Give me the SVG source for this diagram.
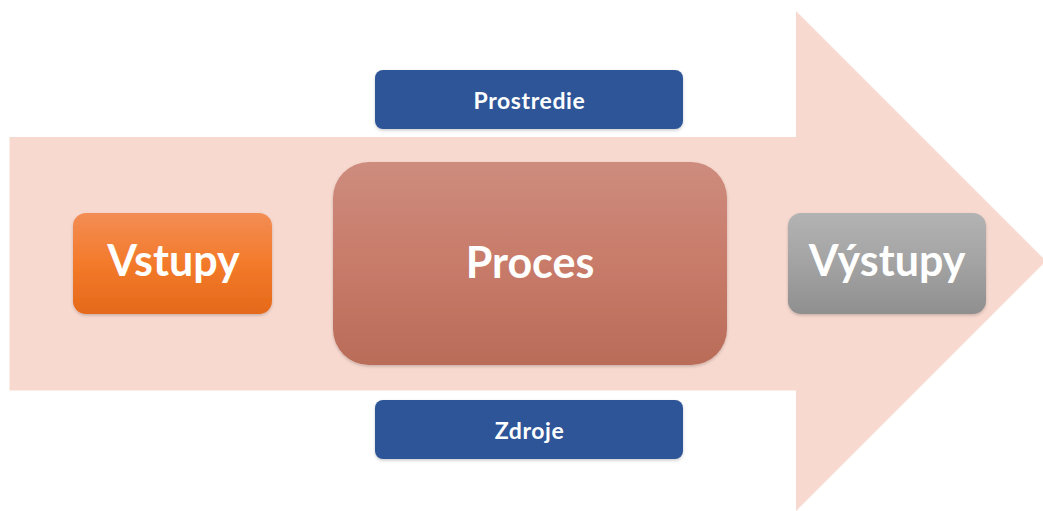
<svg xmlns="http://www.w3.org/2000/svg" width="1043" height="511" viewBox="0 0 1043 511">
<defs>
<linearGradient id="gOrange" x1="0" y1="0" x2="0" y2="1"><stop offset="0" stop-color="#F38D55"/><stop offset="0.5" stop-color="#F37A2A"/><stop offset="1" stop-color="#E5691A"/></linearGradient>
<linearGradient id="gProc" x1="0" y1="0" x2="0" y2="1"><stop offset="0" stop-color="#CD8C7E"/><stop offset="0.5" stop-color="#C87B69"/><stop offset="1" stop-color="#B96C58"/></linearGradient>
<linearGradient id="gGray" x1="0" y1="0" x2="0" y2="1"><stop offset="0" stop-color="#B3B3B3"/><stop offset="0.5" stop-color="#A3A3A3"/><stop offset="1" stop-color="#8F8F8F"/></linearGradient>
<filter id="sh" x="-10%" y="-10%" width="120%" height="130%"><feDropShadow dx="0" dy="1.5" stdDeviation="1.5" flood-color="#000" flood-opacity="0.2"/></filter>
</defs>
<style>
.big{font-family:Lato,"Open Sans","Liberation Sans",sans-serif;font-weight:bold;fill:#fff;text-anchor:middle;font-size:43px}
.small{font-family:Lato,"Open Sans","Liberation Sans",sans-serif;font-weight:bold;fill:#fff;text-anchor:middle;font-size:23px;letter-spacing:0.6px}
.blue{fill:#2F5597}
</style>
<g id="arrow">
<polygon points="9.5,137 796,137 796,11 1046,261 796,511 796,390.5 9.5,390.5" fill="#F8D9CF"/>
</g>
<g id="connectors"/>
<g id="prostredie">
<rect class="blue" x="375" y="70" width="308" height="59" rx="8" filter="url(#sh)"/>
<text class="small" x="529.5" y="108.5">Prostredie</text>
</g>
<g id="zdroje">
<rect class="blue" x="375" y="400" width="308" height="59" rx="8" filter="url(#sh)"/>
<text class="small" x="529.5" y="438.5">Zdroje</text>
</g>
<g id="vstupy">
<rect x="73" y="213" width="199" height="101" rx="13" fill="url(#gOrange)" filter="url(#sh)"/>
<text class="big" x="173.5" y="276">Vstupy</text>
</g>
<g id="proces">
<rect x="333" y="162" width="394" height="203" rx="36" fill="url(#gProc)" filter="url(#sh)"/>
<text class="big" x="530" y="278">Proces</text>
</g>
<g id="vystupy">
<rect x="788" y="213" width="198" height="101" rx="13" fill="url(#gGray)" filter="url(#sh)"/>
<text class="big" x="887" y="276">Výstupy</text>
</g>
</svg>
